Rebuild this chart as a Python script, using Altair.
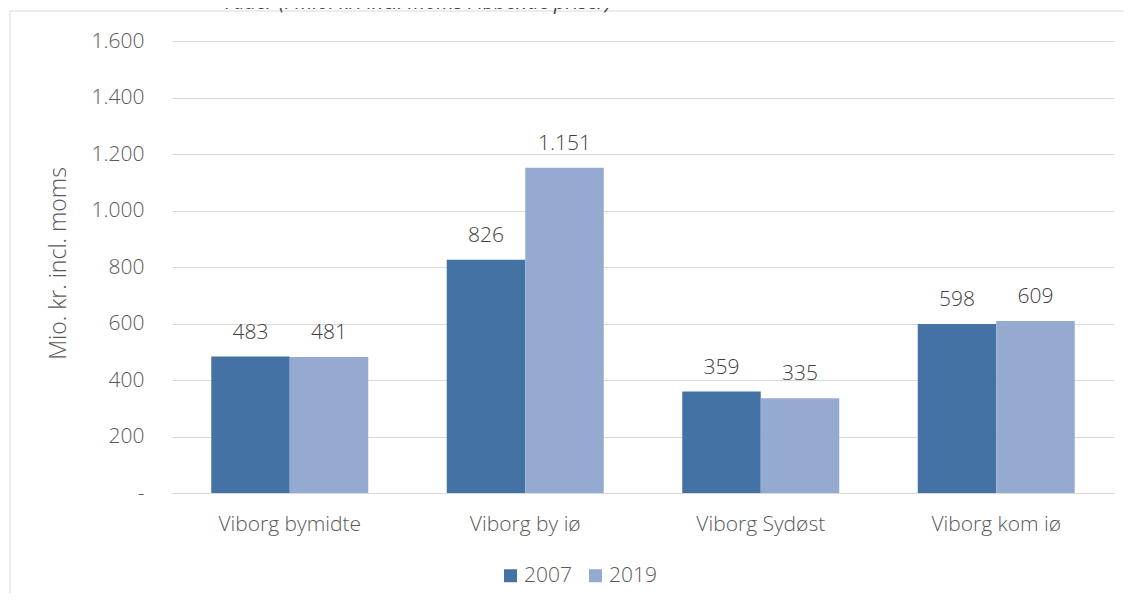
import altair as alt
import pandas as pd

categories = ["Viborg bymidte", "Viborg by iø", "Viborg Sydøst", "Viborg kom iø"]
years = ["2007", "2019"]
values_2007 = [483, 826, 359, 598]
values_2019 = [481, 1151, 335, 609]
y_ticks = [0, 200, 400, 600, 800, 1000, 1200, 1400, 1600]
colors = ["#4472A5", "#95AAD0"]
y_title = "Mio. kr. incl. moms"
top_text = "råder (i mio. kr. incl. moms i løbende priser)"

FONT = "Open Sans"
GREY = "#595959"

rows = []
for c, a, b in zip(categories, values_2007, values_2019):
    rows.append({"Område": c, "År": years[0], "Værdi": a})
    rows.append({"Område": c, "År": years[1], "Værdi": b})
df = pd.DataFrame(rows)
df["label"] = df["Værdi"].map(lambda v: f"{v:,}".replace(",", "."))

x_enc = alt.X(
    "Område:N",
    sort=categories,
    scale=alt.Scale(paddingInner=1 / 3, paddingOuter=1 / 6),
    axis=alt.Axis(
        title=None, labelAngle=0, ticks=False, domain=True, domainColor="#d9d9d9",
        labelFontSize=21, labelColor=GREY, labelFont=FONT, labelFontWeight=300,
        labelPadding=20, grid=False,
    ),
)
xoff = alt.XOffset("År:N", sort=years, scale=alt.Scale(paddingInner=0, paddingOuter=0))
y_enc = alt.Y(
    "Værdi:Q",
    scale=alt.Scale(domain=[0, 1600], nice=False),
    axis=alt.Axis(
        values=y_ticks, title=y_title, ticks=False, domain=False,
        labelExpr="datum.value == 0 ? '-\u00a0\u00a0\u00a0' : replace(format(datum.value, ','), ',', '.')",
        labelFontSize=21, labelColor=GREY, labelFont=FONT, labelFontWeight=300, labelPadding=28,
        titleFontSize=23, titleColor=GREY, titleFont=FONT, titleFontWeight=300,
        titleX=-114, titleY=222, titleAngle=-90, titleAlign="center", titleBaseline="middle",
        grid=True, gridColor="#d9d9d9", gridWidth=1,
    ),
)

bars = alt.Chart(df).mark_bar().encode(
    x=x_enc,
    xOffset=xoff,
    y=y_enc,
    color=alt.Color(
        "År:N",
        sort=years,
        scale=alt.Scale(domain=years, range=colors),
        legend=alt.Legend(
            title=None, orient="none", legendX=328, legendY=524, direction="horizontal",
            symbolType="square", symbolSize=169, symbolStrokeWidth=0,
            labelFontSize=21, labelColor=GREY, labelFont=FONT, labelFontWeight=300,
            labelOffset=3, columnPadding=13,
        ),
    ),
)

labels = alt.Chart(df).mark_text(
    dy=-18, baseline="alphabetic", fontSize=21, font=FONT, fontWeight=300, color="#404040"
).encode(
    x=alt.X("Område:N", sort=categories),
    xOffset=alt.XOffset("År:N", sort=years),
    y=alt.Y("Værdi:Q"),
    text="label:N",
)

frame_df = pd.DataFrame({"k": [1]})
left_rule = alt.Chart(frame_df).mark_rule(color="#d9d9d9", strokeWidth=1).encode(
    x=alt.value(-162), y=alt.value(-30), y2=alt.value(700)
)
top_rule = alt.Chart(frame_df).mark_rule(color="#d9d9d9", strokeWidth=1).encode(
    x=alt.value(-162), x2=alt.value(2000), y=alt.value(-30)
)
top_label = alt.Chart(pd.DataFrame({"t": [top_text]})).mark_text(
    fontSize=20, font=FONT, fontStyle="italic", color="#404040", baseline="alphabetic", align="center"
).encode(x=alt.value(246), y=alt.value(-32), text="t:N")

chart = alt.layer(left_rule, top_rule, top_label, bars, labels).properties(
    width=942, height=452,
    background="white",
    autosize=alt.AutoSizeParams(type="none"),
    padding={"left": 164, "top": 33, "right": 10, "bottom": 100},
).configure_view(stroke="transparent", strokeWidth=0).configure_axisX(grid=False)

chart.save("out.html", embed_options={"renderer": "svg", "actions": False})
